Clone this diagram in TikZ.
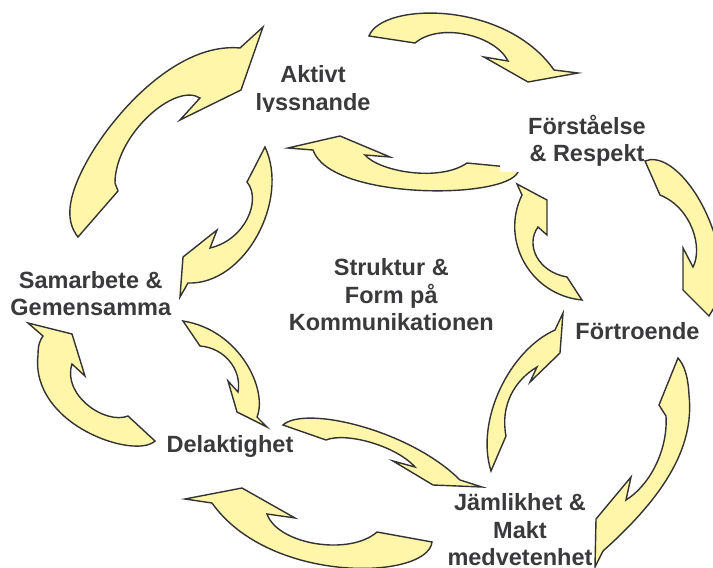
\documentclass[tikz,border=0pt]{standalone}
\usepackage{fontspec}
\setmainfont{Liberation Sans}
\definecolor{bandfill}{RGB}{255,246,170}
\definecolor{bandedge}{RGB}{51,51,51}
\definecolor{labeltext}{RGB}{58,58,60}
\begin{document}
\begin{tikzpicture}[x=1pt,y=-1pt,
  band/.style={fill=bandfill,draw=bandedge,line width=1.4pt,line join=miter},
  ringtext/.style={text=labeltext,font=\fontsize{23.5}{27.5}\selectfont\bfseries,
    align=center,inner sep=0pt,anchor=base}]
\useasboundingbox (0,0) rectangle (713,568);
\clip (0,0) rectangle (713,568);

% inner ring: Förståelse -> Aktivt lyssnande
\draw[band] (288,148) -- (340,136) -- (390,157) -- (365,155)
  .. controls (380,172) and (440,182) .. (467,163) -- (519,168) -- (518,172)
  .. controls (505,200) and (330,200) .. (313,150) -- cycle;

% label with an opaque box over the tail of the arrow above
% (base anchor = baseline of the last line)
\node[ringtext,fill=white,inner xsep=28pt,inner ysep=5.7pt] (forstaelse) at (587,161.7)
  {Förståelse\\\& Respekt};

% outer ring (clockwise)
% Samarbete -> Aktivt
\draw[band] (118,191) -- (78,237) .. controls (66,222) and (66,200) .. (86,163)
  .. controls (110,118) and (175,42) .. (240,48) -- (263,27) -- (241,90) -- (180,120)
  -- (200,98) .. controls (175,82) and (115,135) .. (115,183) -- cycle;
% Aktivt -> Förståelse
\draw[band] (415,43) -- (369,36) .. controls (382,2) and (505,0) .. (554,70)
  -- (578,73) -- (528,82) -- (484,57) -- (508,61)
  .. controls (495,35) and (440,22) .. (415,43) -- cycle;
% Förståelse -> Förtroende
\draw[band] (660,195) -- (645,161) .. controls (672,150) and (715,205) .. (722,270)
  -- (727,286) -- (709,316) -- (683,290) -- (683,248) -- (693,267)
  .. controls (703,248) and (692,208) .. (660,195) -- cycle;
% Förtroende -> Jämlikhet
\draw[band] (678,358) -- (659,405) -- (666,416) .. controls (668,450) and (650,485) .. (626,500)
  -- (631,477) -- (596,519) -- (595,567) -- (603,551)
  .. controls (660,500) and (695,450) .. (689,395) .. controls (688,375) and (684,365) .. (678,358) -- cycle;
% Jämlikhet -> Delaktighet
\draw[band] (185,499) -- (242,488) -- (295,518) -- (267,514)
  .. controls (278,545) and (350,556) .. (377,532) -- (432,542)
  .. controls (428,580) and (270,585) .. (212,503) -- cycle;
% Delaktighet -> Samarbete
\draw[band] (28,323) -- (72,334) -- (85,376) -- (72,364)
  .. controls (62,395) and (105,425) .. (128,416) -- (155,441)
  .. controls (135,460) and (30,425) .. (38,355) .. controls (38,345) and (40,340) .. (43,336) -- cycle;

% inner ring (counter-clockwise)
% Aktivt -> Samarbete
\draw[band] (265,147) -- (247,182) .. controls (262,200) and (245,240) .. (210,248)
  -- (217,230) -- (183,257) -- (180,297) -- (188,283)
  .. controls (245,285) and (290,200) .. (265,147) -- cycle;
% Samarbete -> Delaktighet
\draw[band] (183,321) -- (200,346) .. controls (225,348) and (242,370) .. (238,392)
  -- (228,381) -- (237,412) -- (267,427) -- (257,417)
  .. controls (268,390) and (240,330) .. (183,321) -- cycle;
% Delaktighet -> Jämlikhet
\draw[band] (326,440) -- (283,425) .. controls (305,405) and (410,430) .. (460,480)
  -- (482,487) -- (433,485) -- (393,461) -- (415,467)
  .. controls (395,445) and (345,432) .. (326,440) -- cycle;
% Jämlikhet -> Förtroende
\draw[band] (491,471) -- (506,436) .. controls (500,405) and (515,380) .. (537,367)
  -- (530,382) -- (560,353) -- (563,313) -- (555,330)
  .. controls (510,350) and (475,420) .. (491,471) -- cycle;
% Förtroende -> Förståelse
\draw[band] (517,184) -- (547,200) -- (547,235) -- (538,227)
  .. controls (525,245) and (538,272) .. (567,277) -- (582,300)
  .. controls (530,295) and (500,240) .. (522,195) -- cycle;

% labels (base anchor = baseline of the last line)
\begin{scope}
  \clip (200,40) rectangle (420,111);
  \node[ringtext] (aktivt) at (313,110) {Aktivt\\lyssnande};
\end{scope}
\node[ringtext] (fortroende) at (637.5,339) {Förtroende};
\node[ringtext] (jamlikhet) at (520,565.7) {Jämlikhet \&\\Makt\\medvetenhet};
\node[ringtext] (struktur) at (391.3,330.7) {Struktur \&\\Form på\\Kommunikationen};
\node[ringtext] (samarbete) at (90.8,315.7) {Samarbete \&\\Gemensamma};
\node[ringtext] (delaktighet) at (230,452.3) {Delaktighet};
\end{tikzpicture}
\end{document}
